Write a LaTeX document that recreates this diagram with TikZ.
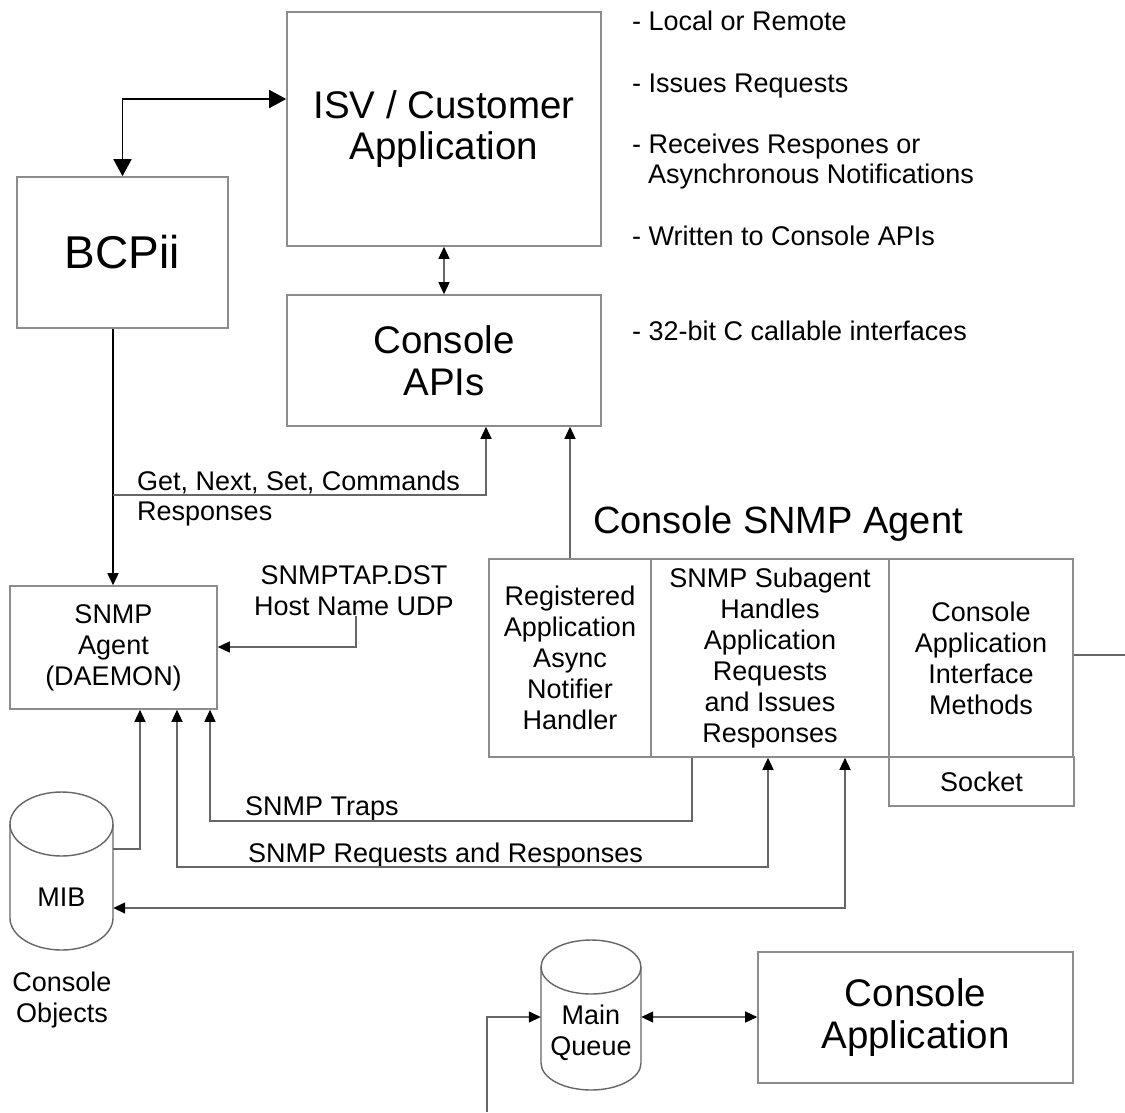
\documentclass[tikz,border=0pt]{standalone}
\usepackage{fontspec}
\setmainfont{Liberation Sans}
\usetikzlibrary{arrows.meta}
\begin{document}
\begin{tikzpicture}[x=1pt,y=-1pt,
  box/.style={draw=black!45, line width=1.6pt, inner sep=0pt, align=center, text=black},
  bigtext/.style={font=\fontsize{38.5}{42}\selectfont},
  smalltext/.style={font=\fontsize{27}{31}\selectfont},
  lbl/.style={inner sep=0pt, text=black, font=\fontsize{27}{31}\selectfont},
  conn/.style={draw=black!60, line width=1.4pt},
  dark/.style={draw=black, line width=1.6pt},
  cyl/.style={draw=black!60, line width=1.4pt},
  ar/.tip={Triangle[length=12pt,width=11pt,color=black]},
  bigar/.tip={Triangle[length=17pt,width=18pt,color=black]}
]
\useasboundingbox (0,0) rectangle (1125,1112);
\fill[white] (0,0) rectangle (1125,1112);

% main boxes
\node[box,bigtext,minimum width=314pt,minimum height=234pt] (isv) at (444,129) {ISV / Customer\\[-1pt]Application};
\node[box,bigtext,minimum width=314pt,minimum height=131pt] (apis) at (444,360.5) {Console\\APIs};
\node[box,font=\fontsize{46}{50}\selectfont,minimum width=211pt,minimum height=151pt] (bcpii) at (122.5,252.5) {BCPii};
\node[box,smalltext,minimum width=207pt,minimum height=123pt] (agent) at (113.5,647.5) {SNMP\\Agent\\(DAEMON)};

% Console SNMP Agent
\node[inner sep=0pt,anchor=base west,font=\fontsize{38}{40}\selectfont] (title) at (593,533) {Console SNMP Agent};
\node[box,smalltext,minimum width=162pt,minimum height=198pt] (c1) at (570,658) {Registered\\Application\\Async\\Notifier\\Handler};
\node[box,smalltext,minimum width=238pt,minimum height=198pt] (c2) at (770,658) {SNMP Subagent\\Handles\\Application\\Requests\\and Issues\\Responses};
\node[box,smalltext,minimum width=184pt,minimum height=198pt] (c3) at (981,658) {Console\\Application\\Interface\\Methods};
\node[box,smalltext,minimum width=185pt,minimum height=49pt] (socket) at (981.5,781.5) {Socket};

\node[box,bigtext,minimum width=315pt,minimum height=131pt] (conapp) at (915.5,1017.5) {Console\\Application};

% cylinders
\node[minimum width=103pt,minimum height=158pt,inner sep=0pt] (mib) at (61.5,871) {};
\draw[cyl] (61.5,824) ellipse[x radius=51.5,y radius=32];
\draw[cyl] (10,824) -- (10,918) arc[start angle=180,end angle=0,x radius=51.5,y radius=32] -- (113,824);
\node[lbl] (mibtext) at (61.5,897) {MIB};
\node[lbl,align=center] (objects) at (62,1000.5) {Console\\Objects};

\node[minimum width=100pt,minimum height=150pt,inner sep=0pt] (mq) at (591,1015) {};
\draw[cyl] (591,967) ellipse[x radius=50,y radius=27];
\draw[cyl] (541,967) -- (541,1063) arc[start angle=180,end angle=0,x radius=50,y radius=27] -- (641,967);
\node[lbl,align=center] (mqtext) at (591,1032.5) {Main\\Queue};

% right-side notes
\node[lbl,anchor=base west] (n1) at (632,30) {- Local or Remote};
\node[lbl,anchor=base west] (n2) at (632,92) {- Issues Requests};
\node[lbl,anchor=base west] (n3) at (632,153) {- Receives Respones or};
\node[lbl,anchor=base west] (n3b) at (648,183) {Asynchronous Notifications};
\node[lbl,anchor=base west] (n4) at (632,245) {- Written to Console APIs};
\node[lbl,anchor=base west] (n5) at (632,340) {- 32-bit C callable interfaces};

% connector labels
\node[lbl,anchor=base west] (g1) at (137,490) {Get, Next, Set, Commands};
\node[lbl,anchor=base west] (g2) at (137,520) {Responses};
\node[lbl,align=center] (tap) at (354,590.5) {SNMPTAP.DST\\Host Name UDP};
\node[lbl,anchor=base west] (traps) at (245,815) {SNMP Traps};
\node[lbl,anchor=base west] (reqs) at (248,862) {SNMP Requests and Responses};

% coordinates for bends
\coordinate (kTop) at (120,99);
\coordinate (kB) at (113,495);
\coordinate (kG) at (486,495);
\coordinate (kT) at (356,647);
\coordinate (kM) at (140,849);
\coordinate (kR1) at (177,867);
\coordinate (kR2) at (768,867);
\coordinate (kP1) at (210,821);
\coordinate (kP2) at (692,821);
\coordinate (kS) at (845,908);
\coordinate (kE) at (1125,655);
\coordinate (kQ) at (487,1017);
\coordinate (kQ0) at (487,1112);

% connectors
\draw[dark,bigar-bigar] (bcpii.north) |- (isv.west |- kTop);
\draw[conn,ar-ar] (isv.south) -- (apis.north);
\draw[dark,-ar] (bcpii.south -| kB) -- (agent.north -| kB);
\draw[conn,-ar] (kB) -- (kG) -- (kG |- apis.south);
\draw[conn,-ar] (c1.north) -- (c1.north |- apis.south);
\draw[conn,-ar] (kT |- tap.south) -- (kT) -- (kT -| agent.east);
\draw[conn,-ar] (kM -| mib.east) -- (kM) -- (kM |- agent.south);
\draw[conn,ar-ar] (kR1 |- agent.south) -- (kR1) -- (kR2) -- (kR2 |- c2.south);
\draw[conn,-ar] (kP2 |- c2.south) -- (kP2) -- (kP1) -- (kP1 |- agent.south);
\draw[conn,ar-ar] (kS |- c2.south) -- (kS) -- (kS -| mib.east);
\draw[conn] (kE -| c3.east) -- (kE);
\draw[conn,-ar] (kQ0) -- (kQ) -- (kQ -| mq.west);
\draw[conn,ar-ar] (kQ -| mq.east) -- (kQ -| conapp.west);
\end{tikzpicture}
\end{document}
